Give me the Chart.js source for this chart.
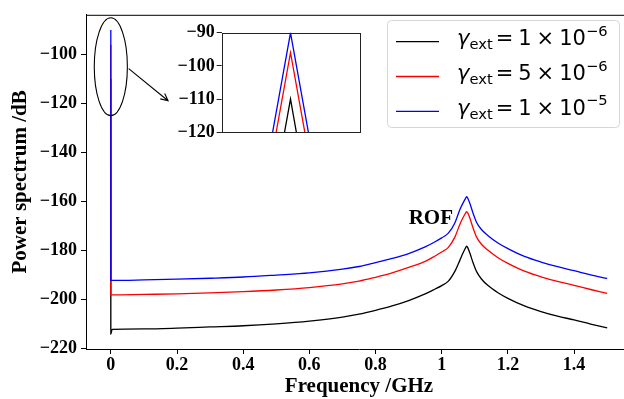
<!DOCTYPE html>
<html>
<head>
<meta charset="utf-8">
<script src="https://cdn.jsdelivr.net/npm/chart.js@4.4.1/dist/chart.umd.min.js"></script>
<style>
  html, body { margin: 0; padding: 0; background: #fff; }
  #wrap { position: relative; width: 624px; height: 399px; overflow: hidden; }
  #main { position: absolute; left: 0; top: 0; }
  #inset { position: absolute; left: 150px; top: 20px; }
</style>
</head>
<body>
<div id="wrap">
  <canvas id="main" width="650" height="399"></canvas>
  <canvas id="inset" width="215" height="125"></canvas>
</div>
<script>
// frequency grid of the smooth part (GHz)
const freq = [0.004, 0.1, 0.2, 0.3, 0.4, 0.5, 0.6, 0.7, 0.75, 0.8, 0.85, 0.9, 0.95, 0.98, 1.0, 1.02, 1.04,
  1.055, 1.065, 1.072, 1.0755, 1.079, 1.086, 1.095, 1.105, 1.12, 1.14, 1.17, 1.2, 1.25, 1.3, 1.35, 1.4, 1.45, 1.5];

const blackLevel = [-212.3, -212.1, -211.8, -211.3, -210.8, -210.0, -208.9, -207.3, -206.1, -204.5, -202.7, -200.5,
  -197.8, -195.8, -194.4, -192.6, -188.5, -184.0, -180.9, -179.0, -178.3, -179.0, -181.5, -185.2, -188.6, -191.7,
  -194.4, -197.3, -199.6, -202.7, -205.0, -206.9, -208.4, -210.1, -211.7];
const redLevel = [-198.2, -198.0, -197.8, -197.4, -196.9, -196.2, -195.2, -193.7, -192.6, -191.0, -189.2, -187.0,
  -184.5, -182.3, -180.7, -178.8, -174.5, -169.3, -166.5, -164.8, -164.2, -164.8, -167.2, -171.0, -174.5, -177.5,
  -180.0, -183.0, -185.3, -188.5, -190.8, -192.7, -194.3, -196.0, -197.6];
const blueLevel = [-192.3, -192.1, -191.8, -191.4, -190.9, -190.1, -189.2, -187.7, -186.6, -185.0, -183.3, -181.3,
  -178.6, -176.5, -174.9, -173.0, -168.7, -163.3, -160.5, -158.8, -158.1, -158.8, -161.2, -165.0, -168.5, -171.5,
  -174.0, -177.0, -179.3, -182.5, -184.8, -186.7, -188.3, -190.0, -191.5];

// the narrow carrier spike at 0 GHz
const spikeFreq = [-0.0001, 0, 0.0001];
const blackSpike = [-212.3, -110, -214.2];
const redSpike = [-198.2, -96, -198.2];
const blueSpike = [-192.3, -90, -192.3];

const seriesMant = ['1', '5', '1'];
const seriesExp = ['\u22126', '\u22126', '\u22125'];
const seriesColor = ['#000000', '#ff0000', '#0000ff'];

const xTicks = [0, 0.2, 0.4, 0.6, 0.8, 1.0, 1.2, 1.4];
const yTicks = [-220, -200, -180, -160, -140, -120, -100];
const insetTicks = [-120, -110, -100, -90];

Chart.defaults.font.family = '"Liberation Serif", "Times New Roman", serif';
Chart.defaults.color = '#000';

function series(spike, level) {
  return spikeFreq.map((f, i) => ({ x: f, y: spike[i] }))
    .concat(freq.map((f, i) => ({ x: f, y: level[i] })));
}
const lines = [series(blackSpike, blackLevel), series(redSpike, redLevel), series(blueSpike, blueLevel)];

function makeDatasets(tension) {
  return lines.map((d, i) => ({
    data: d,
    order: lines.length - i, // later series drawn on top, like matplotlib
    borderColor: seriesColor[i],
    borderWidth: 1.3,
    pointRadius: 0,
    fill: false,
    tension: tension,
    cubicInterpolationMode: tension ? 'monotone' : 'default'
  }));
}

const minus = v => (v < 0 ? '\u2212' : '') + Math.abs(+v.toFixed(1));
const tickFont = { size: 18, weight: 'bold' };

function drawLegendLabel(ctx, x, base, mant, exp) {
  ctx.textAlign = 'left';
  ctx.textBaseline = 'alphabetic';
  ctx.font = 'italic 21px "DejaVu Sans"';
  ctx.fillText('\u03b3', x, base);
  x += ctx.measureText('\u03b3').width;
  ctx.font = '14.7px "DejaVu Sans"';
  ctx.fillText('ext', x, base + 4);
  x += ctx.measureText('ext').width + 3;
  ctx.font = '21px "DejaVu Sans"';
  ctx.fillText('=', x, base);
  x += ctx.measureText('=').width + 5;
  ctx.fillText(mant, x, base);
  x += ctx.measureText(mant).width + 5;
  ctx.fillText('\u00d7', x, base);
  x += ctx.measureText('\u00d7').width + 5;
  ctx.fillText('10', x, base);
  x += ctx.measureText('10').width;
  ctx.font = '14.7px "DejaVu Sans"';
  ctx.fillText(exp, x, base - 9.5);
}

const decor = {
  id: 'decor',
  afterDraw(chart) {
    const { ctx, chartArea: a, scales: { x, y } } = chart;
    ctx.save();
    ctx.strokeStyle = '#000';
    ctx.lineWidth = 1;
    // top spine
    ctx.beginPath();
    ctx.moveTo(a.left, a.top + 0.5);
    ctx.lineTo(a.right, a.top + 0.5);
    ctx.stroke();

    // ellipse round the spike
    const cx = x.getPixelForValue(0), cy = y.getPixelForValue(-105);
    const rx = x.getPixelForValue(0.05) - cx, ry = y.getPixelForValue(-125) - cy;
    ctx.lineWidth = 1.1;
    ctx.beginPath();
    ctx.ellipse(cx, cy, rx, ry, 0, 0, 2 * Math.PI);
    ctx.stroke();

    // arrow towards the inset
    const x0 = x.getPixelForValue(0.054), y0 = y.getPixelForValue(-105.8);
    const x1 = x.getPixelForValue(0.173), y1 = y.getPixelForValue(-118.9);
    const ang = Math.atan2(y1 - y0, x1 - x0);
    ctx.beginPath();
    ctx.moveTo(x0, y0);
    ctx.lineTo(x1, y1);
    ctx.moveTo(x1 - 8 * Math.cos(ang - 0.45), y1 - 8 * Math.sin(ang - 0.45));
    ctx.lineTo(x1, y1);
    ctx.lineTo(x1 - 8 * Math.cos(ang + 0.45), y1 - 8 * Math.sin(ang + 0.45));
    ctx.stroke();

    // ROF label
    ctx.fillStyle = '#000';
    ctx.font = 'bold 21px "Liberation Serif"';
    ctx.textAlign = 'center';
    ctx.textBaseline = 'middle';
    ctx.fillText('ROF', x.getPixelForValue(0.967), y.getPixelForValue(-167.1));

    // legend
    ctx.beginPath();
    ctx.roundRect(387.5, 20.5, 232, 107, 4);
    ctx.fillStyle = 'rgba(255,255,255,0.8)';
    ctx.fill();
    ctx.strokeStyle = '#d6d6d6';
    ctx.lineWidth = 1;
    ctx.stroke();
    const rowY = [41.7, 76.5, 111.3];
    rowY.forEach((ry0, i) => {
      ctx.strokeStyle = seriesColor[i];
      ctx.lineWidth = 1.3;
      ctx.beginPath();
      ctx.moveTo(396, ry0);
      ctx.lineTo(439, ry0);
      ctx.stroke();
      ctx.fillStyle = '#000';
      drawLegendLabel(ctx, 457, ry0 + 3.5, seriesMant[i], seriesExp[i]);
    });
    ctx.restore();
  }
};

new Chart(document.getElementById('main'), {
  type: 'line',
  data: { datasets: makeDatasets(0.4) },
  options: {
    responsive: false,
    animation: false,
    devicePixelRatio: 1,
    layout: { padding: { left: 0, top: 9, right: 18, bottom: 0 } },
    plugins: { legend: { display: false }, tooltip: { enabled: false } },
    scales: {
      x: {
        type: 'linear', min: -0.075, max: 1.575,
        afterBuildTicks: s => { s.ticks = xTicks.map(v => ({ value: v })); },
        afterFit: s => { s.height = 50; },
        ticks: { font: tickFont, padding: 1, maxRotation: 0, callback: v => minus(v) },
        grid: { drawOnChartArea: false, drawTicks: true, tickLength: 5, color: '#000' },
        border: { display: true, color: '#000', width: 1 },
        title: { display: true, text: 'Frequency /GHz', font: { size: 21, weight: 'bold' }, padding: { top: 0, bottom: 0 } }
      },
      y: {
        type: 'linear', min: -220.3, max: -83.8,
        afterBuildTicks: s => { s.ticks = yTicks.map(v => ({ value: v })); },
        afterFit: s => { s.width = 86; },
        ticks: { font: tickFont, padding: 4, callback: v => minus(v) },
        grid: { drawOnChartArea: false, drawTicks: true, tickLength: 5, color: '#000' },
        border: { display: true, color: '#000', width: 1 },
        title: { display: true, text: 'Power spectrum /dB', font: { size: 21, weight: 'bold' }, padding: { top: 8, bottom: 0 } }
      }
    }
  },
  plugins: [decor]
});

const insetFrame = {
  id: 'insetFrame',
  beforeDatasetsDraw(chart) {
    const { ctx, chartArea: a } = chart;
    ctx.save();
    ctx.fillStyle = '#fff';
    ctx.fillRect(a.left, a.top, a.right - a.left, a.bottom - a.top);
    ctx.restore();
  },
  afterDraw(chart) {
    const { ctx, chartArea: a } = chart;
    ctx.save();
    ctx.strokeStyle = '#222';
    ctx.lineWidth = 1;
    ctx.strokeRect(Math.round(a.left) + 0.5, Math.round(a.top) + 0.5, Math.round(a.right - a.left), Math.round(a.bottom - a.top));
    ctx.restore();
  }
};

new Chart(document.getElementById('inset'), {
  type: 'line',
  data: { datasets: makeDatasets(0) },
  options: {
    responsive: false,
    animation: false,
    devicePixelRatio: 1,
    layout: { padding: { left: 0, top: 10.7, right: 5.7, bottom: 8.3 } },
    plugins: { legend: { display: false }, tooltip: { enabled: false } },
    scales: {
      x: { type: 'linear', min: -0.0001128, max: 0.0001128, display: false },
      y: {
        type: 'linear', min: -120, max: -90,
        afterBuildTicks: s => { s.ticks = insetTicks.map(v => ({ value: v })); },
        afterFit: s => { s.width = 71.7; },
        ticks: { font: tickFont, padding: 2, callback: v => minus(v) },
        grid: { drawOnChartArea: false, drawTicks: true, tickLength: 5, color: '#222' },
        border: { display: false }
      }
    }
  },
  plugins: [insetFrame]
});
</script>
</body>
</html>
